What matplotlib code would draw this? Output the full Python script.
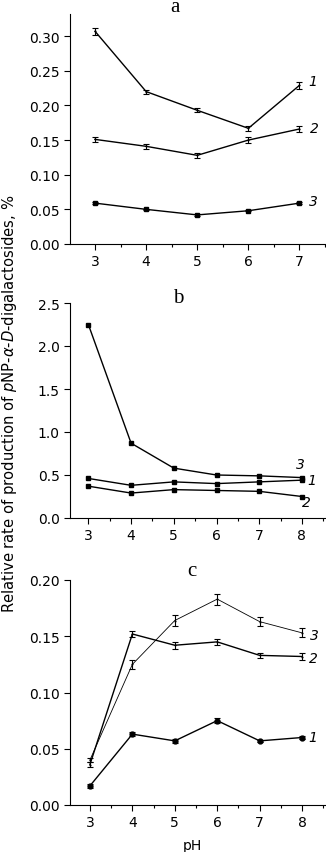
import matplotlib
matplotlib.use("Agg")
import matplotlib.pyplot as plt
from matplotlib.ticker import MultipleLocator

plt.rcParams['font.family'] = 'DejaVu Sans'
plt.rcParams['mathtext.fontset'] = 'dejavusans'

# panel a
ph_a = [3, 4, 5, 6, 7]
a1 = [0.307, 0.220, 0.193, 0.167, 0.229]
a1_err = [0.005, 0.003, 0.003, 0.004, 0.005]
a2 = [0.151, 0.141, 0.128, 0.150, 0.166]
a2_err = [0.004, 0.004, 0.004, 0.004, 0.005]
a3 = [0.059, 0.050, 0.042, 0.048, 0.059]
a3_err = [0.001, 0.001, 0.001, 0.001, 0.001]

# panel b
ph_b = [3, 4, 5, 6, 7, 8]
b1 = [0.46, 0.38, 0.42, 0.40, 0.42, 0.44]
b2 = [0.37, 0.29, 0.33, 0.32, 0.31, 0.25]
b3 = [2.25, 0.87, 0.58, 0.50, 0.49, 0.47]

# panel c
ph_c = [3, 4, 5, 6, 7, 8]
c1 = [0.017, 0.063, 0.057, 0.075, 0.057, 0.060]
c1_err = [0.002, 0.002, 0.002, 0.002, 0.001, 0.001]
c2 = [0.036, 0.152, 0.142, 0.145, 0.133, 0.132]
c2_err = [0.002, 0.003, 0.003, 0.003, 0.002, 0.003]
c3 = [0.040, 0.125, 0.164, 0.183, 0.163, 0.153]
c3_err = [0.002, 0.004, 0.005, 0.005, 0.004, 0.004]

W, H = 326, 853
fig = plt.figure(figsize=(W / 100, H / 100), dpi=100)


def make_ax(left, top, right, bottom):
    ax = fig.add_axes([left / W, 1 - bottom / H, (right - left) / W, (bottom - top) / H])
    ax.spines['top'].set_visible(False)
    ax.spines['right'].set_visible(False)
    ax.tick_params(direction='out', length=4.5, width=0.8, labelsize=10, pad=3)
    ax.tick_params(which='minor', length=2.5, width=0.8)
    ax.xaxis.set_major_locator(MultipleLocator(1))
    ax.xaxis.set_minor_locator(MultipleLocator(0.5))
    return ax


def curve(ax, x, y, err=None, marker=None, ms=3.5, lw=1.0):
    ax.errorbar(x, y, yerr=err, color='black', lw=lw, elinewidth=0.8, capsize=2.2,
                capthick=0.8, marker=marker, ms=ms, mfc='black', mec='black')


def tag(ax, x, y, s):
    ax.text(x, y, s, style='italic', fontsize=10, ha='center', va='center', clip_on=False)


# a
ax = make_ax(70, 15, 325, 245)
curve(ax, ph_a, a1, a1_err, marker='_', ms=1)
curve(ax, ph_a, a2, a2_err, marker='_', ms=1)
curve(ax, ph_a, a3, a3_err, marker='s', ms=3.5)
ax.set_xlim(2.51, 7.5)
ax.set_ylim(0, 0.332)
ax.yaxis.set_major_locator(MultipleLocator(0.05))
ax.yaxis.set_major_formatter(matplotlib.ticker.FormatStrFormatter('%.2f'))
tag(ax, 7.27, 0.235, '1')
tag(ax, 7.29, 0.167, '2')
tag(ax, 7.27, 0.062, '3')

# b
ax = make_ax(70, 304, 325, 519)
curve(ax, ph_b, b1, marker='s', ms=3.5)
curve(ax, ph_b, b2, marker='s', ms=3.5)
curve(ax, ph_b, b3, marker='s', ms=3.2)
ax.set_xlim(2.57, 8.54)
ax.set_ylim(0, 2.5)
ax.yaxis.set_major_locator(MultipleLocator(0.5))
ax.yaxis.set_major_formatter(matplotlib.ticker.FormatStrFormatter('%.1f'))
tag(ax, 7.97, 0.63, '3')
tag(ax, 8.22, 0.44, '1')
tag(ax, 8.1, 0.19, '2')

# c
ax = make_ax(70, 581, 325, 806)
curve(ax, ph_c, c3, c3_err, marker='_', ms=1, lw=0.6)
curve(ax, ph_c, c2, c2_err, marker='_', ms=1)
curve(ax, ph_c, c1, c1_err, marker='o', ms=3.5)
ax.set_xlim(2.53, 8.54)
ax.set_ylim(0, 0.20)
ax.yaxis.set_major_locator(MultipleLocator(0.05))
ax.yaxis.set_major_formatter(matplotlib.ticker.FormatStrFormatter('%.2f'))
tag(ax, 8.28, 0.151, '3')
tag(ax, 8.26, 0.131, '2')
tag(ax, 8.26, 0.060, '1')

# panel letters
fig.text(175 / W, 1 - 8 / H, 'a', family='Liberation Serif', fontsize=15, ha='center', va='center')
fig.text(178 / W, 1 - 299 / H, 'b', family='Liberation Serif', fontsize=15, ha='center', va='center')
fig.text(192 / W, 1 - 572 / H, 'c', family='Liberation Serif', fontsize=15, ha='center', va='center')

fig.text(192 / W, 1 - 846 / H, 'pH', fontsize=10, ha='center', va='center')
fig.text(10 / W, 1 - 404 / H,
         r'Relative rate of production of $\mathit{p}$NP-$\alpha$-$\mathit{D}$-digalactosides, %',
         rotation=90, fontsize=10.6, ha='center', va='center')

fig.savefig('out.png', dpi=100)
